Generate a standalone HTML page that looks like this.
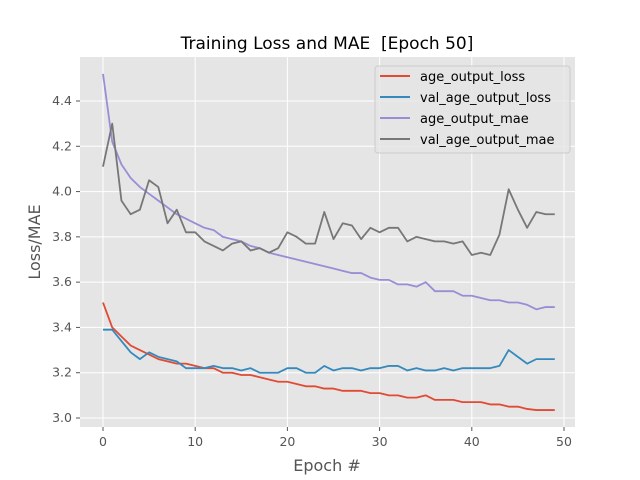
<!DOCTYPE html>
<html><head><meta charset="utf-8"><style>body{margin:0;background:#fff}svg{display:block;font-family:"DejaVu Sans","Liberation Sans",sans-serif}</style></head>
<body>
<svg id="chart" width="640" height="480">
<rect width="640" height="480" fill="#fff"/>
<rect x="80" y="57" width="495" height="370" fill="#e5e5e5"/>
<g id="grid"></g><g id="series"></g><g id="ticks"></g>
<text x="327" y="49" text-anchor="middle" font-size="17" fill="#000">Training Loss and MAE &#160;[Epoch 50]</text>
<text x="327" y="471" text-anchor="middle" font-size="16" fill="#555">Epoch #</text>
<text transform="translate(40,242) rotate(-90)" text-anchor="middle" font-size="16" fill="#555">Loss/MAE</text>
<g>
<rect x="375" y="66" width="195" height="87" rx="3" fill="#e5e5e5" fill-opacity="0.8" stroke="#ccc"/>
<g id="legend"></g>
</g>
</svg>
<script>
const epochs = Array.from({length:50},(_, i)=>i);
const seriesNames = ["age_output_loss","val_age_output_loss","age_output_mae","val_age_output_mae"];
const ageLoss = [3.51,3.40,3.36,3.32,3.30,3.28,3.26,3.25,3.24,3.24,3.23,3.22,3.22,3.20,3.20,3.19,3.19,3.18,3.17,3.16,3.16,3.15,3.14,3.14,3.13,3.13,3.12,3.12,3.12,3.11,3.11,3.10,3.10,3.09,3.09,3.10,3.08,3.08,3.08,3.07,3.07,3.07,3.06,3.06,3.05,3.05,3.04,3.035,3.035,3.035];
const valAgeLoss = [3.39,3.39,3.34,3.29,3.26,3.29,3.27,3.26,3.25,3.22,3.22,3.22,3.23,3.22,3.22,3.21,3.22,3.20,3.20,3.20,3.22,3.22,3.20,3.20,3.23,3.21,3.22,3.22,3.21,3.22,3.22,3.23,3.23,3.21,3.22,3.21,3.21,3.22,3.21,3.22,3.22,3.22,3.22,3.23,3.30,3.27,3.24,3.26,3.26,3.26];
const ageMae = [4.52,4.22,4.12,4.06,4.02,3.99,3.96,3.93,3.90,3.88,3.86,3.84,3.83,3.80,3.79,3.78,3.76,3.75,3.73,3.72,3.71,3.70,3.69,3.68,3.67,3.66,3.65,3.64,3.64,3.62,3.61,3.61,3.59,3.59,3.58,3.60,3.56,3.56,3.56,3.54,3.54,3.53,3.52,3.52,3.51,3.51,3.50,3.48,3.49,3.49];
const valAgeMae = [4.11,4.30,3.96,3.90,3.92,4.05,4.02,3.86,3.92,3.82,3.82,3.78,3.76,3.74,3.77,3.78,3.74,3.75,3.73,3.75,3.82,3.80,3.77,3.77,3.91,3.79,3.86,3.85,3.79,3.84,3.82,3.84,3.84,3.78,3.80,3.79,3.78,3.78,3.77,3.78,3.72,3.73,3.72,3.81,4.01,3.92,3.84,3.91,3.90,3.90];
const xTicks = [0,10,20,30,40,50];
const yTicks = [3.0,3.2,3.4,3.6,3.8,4.0,4.2,4.4];
const colors = ["#e24a33","#348abd","#988ed5","#777777"];
const NS="http://www.w3.org/2000/svg";
const xS = v => 103 + v*(564-103)/50;
const yS = v => 418 - (v-3.0)*(418-101)/1.4;
function mk(tag, attrs, parent){const e=document.createElementNS(NS,tag);for(const k in attrs)e.setAttribute(k,attrs[k]);parent.appendChild(e);return e;}
const grid=document.getElementById('grid'), ticks=document.getElementById('ticks'), ser=document.getElementById('series'), leg=document.getElementById('legend');
xTicks.forEach(t=>{
  const l=mk('line',{x1:xS(t),x2:xS(t),y1:57,y2:427,stroke:'#fff','stroke-width':1},grid);
  
  
  mk('line',{x1:xS(t),x2:xS(t),y1:427,y2:431,stroke:'#555'},ticks);
  const tx=mk('text',{x:xS(t),y:446,'text-anchor':'middle','font-size':12.5,fill:'#555'},ticks);
  tx.textContent=t;
  
  
});
yTicks.forEach(t=>{
  const l=mk('line',{x1:80,x2:575,y1:yS(t),y2:yS(t),stroke:'#fff','stroke-width':1},grid);
  
  
  mk('line',{x1:76,x2:80,y1:yS(t),y2:yS(t),stroke:'#555'},ticks);
  const tx=mk('text',{x:72,y:yS(t)+4,'text-anchor':'end','font-size':12.5,fill:'#555'},ticks);
  tx.textContent=t.toFixed(1);
  
  
});
const allSeries=[ageLoss,valAgeLoss,ageMae,valAgeMae];
const lineNames=['age-loss-line','val-age-loss-line','age-mae-line','val-age-mae-line'];
allSeries.forEach((s,i)=>{
  const p=mk('polyline',{points:s.map((v,j)=>xS(epochs[j])+','+yS(v)).join(' '),fill:'none',stroke:colors[i],'stroke-width':1.8,'stroke-linejoin':'round'},ser);
  
  
  const y=76+i*21;
  const ll=mk('line',{x1:380,x2:410,y1:y,y2:y,stroke:colors[i],'stroke-width':2},leg);
  
  
  const tx=mk('text',{x:420,y:y+5,'font-size':13,fill:'#000'},leg);
  tx.textContent=seriesNames[i];
  
  
});
</script>
</body></html>
